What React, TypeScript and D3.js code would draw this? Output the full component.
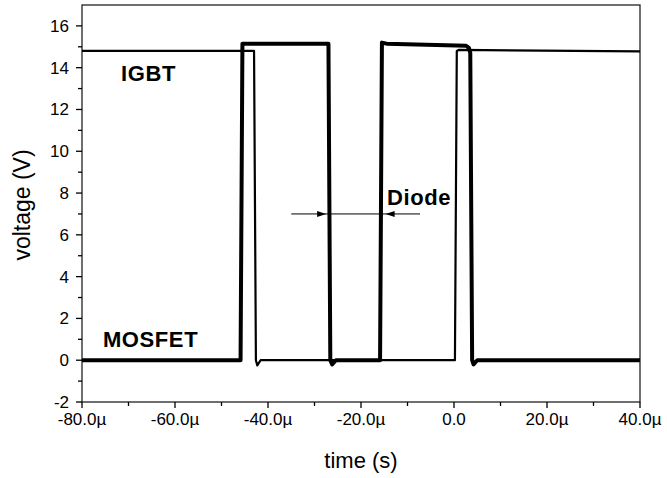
import React from "react";
import * as d3 from "d3";

// time in µs, voltage in V
const mosfetTime = [-80, -45.9, -45.5, -27.0, -26.6, -26.2, -25.4, -15.9, -15.5, -14.5, 2.6, 3.2, 3.5, 3.9, 4.2, 5.0, 40];
const mosfetVolt = [0, 0, 15.15, 15.15, 0, -0.2, 0, 0, 15.2, 15.15, 15.05, 14.95, 14.7, 0, -0.2, 0, 0];

const igbtTime = [-80, -43.5, -43.0, -42.6, -42.3, -41.6, 0.2, 0.6, 1.0, 40];
const igbtVolt = [14.8, 14.8, 14.8, 0, -0.25, 0, 0, 14.8, 14.85, 14.78];

const xTicks = [-80, -60, -40, -20, 0, 20, 40];
const xTickLabels = ["-80.0µ", "-60.0µ", "-40.0µ", "-20.0µ", "0.0", "20.0µ", "40.0µ"];
const xMinor = [-70, -50, -30, -10, 10, 30];
const yTicks = [-2, 0, 2, 4, 6, 8, 10, 12, 14, 16];
const yMinor = [-1, 1, 3, 5, 7, 9, 11, 13, 15];

const labels = [
  { text: "IGBT", t: -71.6, v: 13.37 },
  { text: "MOSFET", t: -75.5, v: 0.63 },
  { text: "Diode", t: -14.4, v: 7.45 },
];
const diodeArrow = { t0: -35, t1: -7.3, v: 7, tipL: -27.5, tipR: -14.7 };

const W = 667, H = 478;
const L = 82, R = 640, T = 5, B = 402;
const FONT = "'Liberation Sans', Arial, sans-serif";

export default function App() {
  const x = d3.scaleLinear().domain([-80, 40]).range([L, R]);
  const y = d3.scaleLinear().domain([-2, 17]).range([B, T]);
  const mk = (ts: number[], vs: number[]) =>
    d3.line<[number, number]>().x(d => x(d[0])).y(d => y(d[1]))(ts.map((t, i) => [t, vs[i]] as [number, number])) || "";
  const ay = y(diodeArrow.v);
  const a1 = x(diodeArrow.tipL);
  const a2 = x(diodeArrow.tipR);
  return (
    <svg width={W} height={H} style={{ position: "absolute", left: 0, top: 0, background: "#fff" }} fontFamily={FONT}>
      <rect x={L} y={T} width={R - L} height={B - T} fill="none" stroke="#222" strokeWidth={1.3} />
      {xTicks.map((t, i) => (
        <g key={"xt" + t}>
          <line x1={x(t)} x2={x(t)} y1={B} y2={B + 6} stroke="#000" strokeWidth={1.3} />
          <text x={x(t)} y={B + 23} fontSize={17} textAnchor="middle" fill="#000">{xTickLabels[i]}</text>
        </g>
      ))}
      {xMinor.map(t => (
        <line key={"xm" + t} x1={x(t)} x2={x(t)} y1={B} y2={B + 4} stroke="#000" strokeWidth={1.3} />
      ))}
      {yTicks.map(v => (
        <g key={"yt" + v}>
          <line x1={L - 6} x2={L} y1={y(v)} y2={y(v)} stroke="#000" strokeWidth={1.3} />
          <text x={L - 13} y={y(v) + 6} fontSize={17} textAnchor="end" fill="#000">{v}</text>
        </g>
      ))}
      {yMinor.map(v => (
        <line key={"ym" + v} x1={L - 4} x2={L} y1={y(v)} y2={y(v)} stroke="#000" strokeWidth={1.3} />
      ))}
      <path d={mk(igbtTime, igbtVolt)} fill="none" stroke="#000" strokeWidth={2.2} strokeLinejoin="round" />
      <path d={mk(mosfetTime, mosfetVolt)} fill="none" stroke="#000" strokeWidth={4} strokeLinejoin="round" />
      <line x1={x(diodeArrow.t0)} x2={x(diodeArrow.t1)} y1={ay} y2={ay} stroke="#000" strokeWidth={1} />
      <path d={`M${a1},${ay} L${a1 - 9},${ay - 3} L${a1 - 9},${ay + 3} Z`} fill="#000" />
      <path d={`M${a2},${ay} L${a2 + 9},${ay - 3} L${a2 + 9},${ay + 3} Z`} fill="#000" />
      {labels.map(l => (
        <text key={l.text} x={x(l.t)} y={y(l.v)} fontSize={22} fontWeight="bold" letterSpacing={0.6} fill="#000">{l.text}</text>
      ))}
      <text x={361} y={468} fontSize={22} textAnchor="middle" fill="#000">time (s)</text>
      <text transform={`translate(30,205) rotate(-90)`} fontSize={23} textAnchor="middle" fill="#000">voltage (V)</text>
    </svg>
  );
}
